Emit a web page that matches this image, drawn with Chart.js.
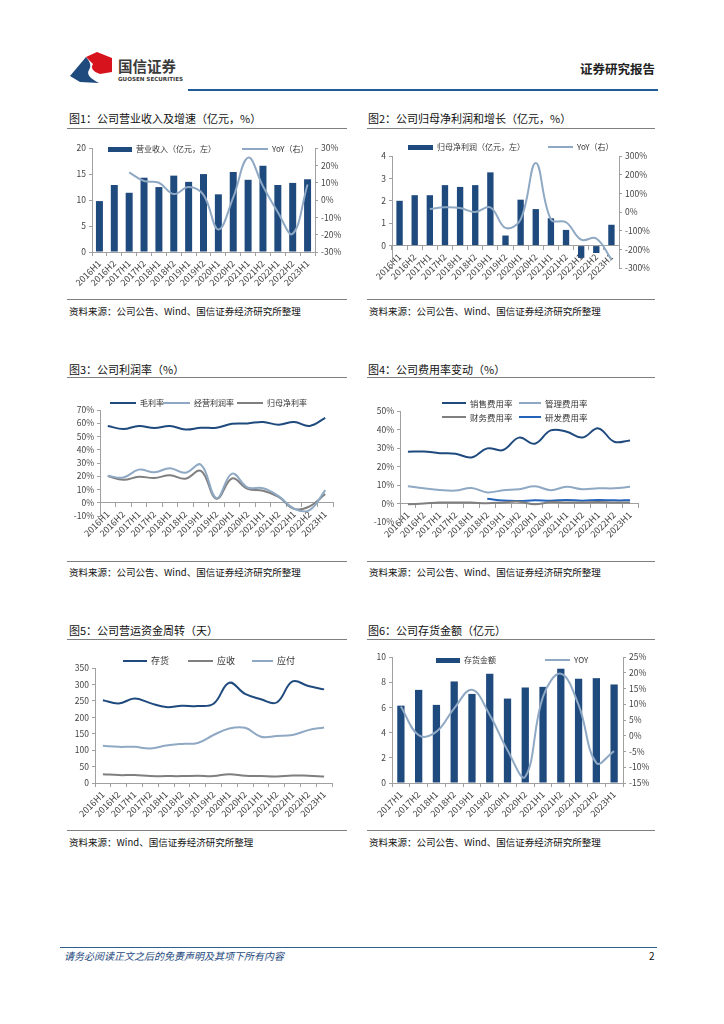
<!DOCTYPE html>
<html>
<head>
<meta charset="utf-8">
<script src="https://cdn.jsdelivr.net/npm/chart.js@4.4.0/dist/chart.umd.min.js"></script>
<style>
body{margin:0;background:#fff;font-family:"Noto Sans CJK SC",sans-serif;}
#page{position:relative;width:724px;height:1024px;overflow:hidden;background:#fff;}
.t{position:absolute;white-space:nowrap;line-height:14px;}
.title{font-size:11px;color:#111;}
.src{font-size:9.5px;color:#111;}
.rule{position:absolute;height:0;border-top:1.5px solid #7f7f7f;}
.lg{position:absolute;white-space:nowrap;font-size:8px;color:#333;line-height:12px;display:flex;align-items:center;}
.sw{display:inline-block;margin-right:4px;}
.box{position:absolute;}
</style>
</head>
<body>
<div id="page">
  <!-- 页眉 -->
  <svg class="box" style="left:66px;top:48px" width="120" height="40">
    <path d="M4 28 L20 9 Q27 17 23 22 Q19 28 33 35 L14 34 Z" fill="#1F4A7E"/>
    <path d="M20 9 L31 4 L46 10 L46 24 L34 26 Q23 22 27 16 Z" fill="#D7141E"/>
    <text x="52" y="24" font-size="14.5" font-weight="bold" fill="#3a3a3a" font-family="Noto Sans CJK SC">国信证券</text>
    <text x="52" y="33" font-size="5.6" font-weight="bold" fill="#3a3a3a" font-family="DejaVu Sans">GUOSEN SECURITIES</text>
  </svg>
  <div class="t" style="left:580px;top:62px;font-size:12.5px;font-weight:bold;color:#222">证券研究报告</div>
  <div class="box" style="left:188px;top:89px;width:470px;height:2px;background:#1F5C99"></div>

  <!-- 图1 -->
  <div class="t title" style="left:69px;top:111px">图1：公司营业收入及增速（亿元，%）</div>
  <div class="rule" style="left:67px;top:128px;width:280px"></div>
  <div class="box" style="left:62px;top:140px;width:288px;height:158px"><canvas id="c1"></canvas></div>
  <div id="lg1"></div>
  <div class="rule" style="left:67px;top:299px;width:280px"></div>
  <div class="t src" style="left:69px;top:304px">资料来源：公司公告、Wind、国信证券经济研究所整理</div>

  <!-- 图2 -->
  <div class="t title" style="left:368px;top:111px">图2：公司归母净利润和增长（亿元，%）</div>
  <div class="rule" style="left:367px;top:128px;width:288px"></div>
  <div class="box" style="left:362px;top:140px;width:290px;height:158px"><canvas id="c2"></canvas></div>
  <div id="lg2"></div>
  <div class="rule" style="left:367px;top:299px;width:288px"></div>
  <div class="t src" style="left:369px;top:304px">资料来源：公司公告、Wind、国信证券经济研究所整理</div>

  <!-- 图3 -->
  <div class="t title" style="left:69px;top:362px">图3：公司利润率（%）</div>
  <div class="rule" style="left:67px;top:377px;width:280px"></div>
  <div class="box" style="left:62px;top:395px;width:288px;height:160px"><canvas id="c3"></canvas></div>
  <div id="lg3"></div>
  <div class="rule" style="left:67px;top:561px;width:280px"></div>
  <div class="t src" style="left:69px;top:565px">资料来源：公司公告、Wind、国信证券经济研究所整理</div>

  <!-- 图4 -->
  <div class="t title" style="left:368px;top:362px">图4：公司费用率变动（%）</div>
  <div class="rule" style="left:367px;top:377px;width:288px"></div>
  <div class="box" style="left:362px;top:395px;width:290px;height:160px"><canvas id="c4"></canvas></div>
  <div id="lg4"></div>
  <div class="rule" style="left:367px;top:561px;width:288px"></div>
  <div class="t src" style="left:369px;top:565px">资料来源：公司公告、Wind、国信证券经济研究所整理</div>

  <!-- 图5 -->
  <div class="t title" style="left:69px;top:623px">图5：公司营运资金周转（天）</div>
  <div class="rule" style="left:67px;top:639px;width:280px"></div>
  <div class="box" style="left:62px;top:650px;width:288px;height:172px"><canvas id="c5"></canvas></div>
  <div id="lg5"></div>
  <div class="rule" style="left:67px;top:830px;width:280px"></div>
  <div class="t src" style="left:69px;top:835px">资料来源：Wind、国信证券经济研究所整理</div>

  <!-- 图6 -->
  <div class="t title" style="left:368px;top:623px">图6：公司存货金额（亿元）</div>
  <div class="rule" style="left:367px;top:639px;width:288px"></div>
  <div class="box" style="left:362px;top:645px;width:290px;height:177px"><canvas id="c6"></canvas></div>
  <div id="lg6"></div>
  <div class="rule" style="left:367px;top:830px;width:288px"></div>
  <div class="t src" style="left:369px;top:835px">资料来源：公司公告、Wind、国信证券经济研究所整理</div>

  <!-- 页脚 -->
  <div class="box" style="left:60px;top:947px;width:597px;height:1px;background:#2E5E8E"></div>
  <div class="t" style="left:64px;top:949px;font-size:10px;font-style:italic;color:#1F4A7E">请务必阅读正文之后的免责声明及其项下所有内容</div>
  <div class="t" style="left:649px;top:949px;font-size:10px;color:#111">2</div>
</div>

<script>
// 横轴
var halfYears = ['2016H1','2016H2','2017H1','2017H2','2018H1','2018H2','2019H1','2019H2','2020H1','2020H2','2021H1','2021H2','2022H1','2022H2','2023H1']
var invPeriods = ['2017H1','2017H2','2018H1','2018H2','2019H1','2019H2','2020H1','2020H2','2021H1','2021H2','2022H1','2022H2','2023H1']

// 图1 营业收入(亿元) 及 YoY(%)
var revenue = [9.8, 12.9, 11.4, 14.3, 12.5, 14.7, 13.5, 15.0, 11.1, 15.4, 13.9, 16.6, 12.9, 13.3, 14.0]
var revenueYoY = [null, null, 16, 11, 10, 3.5, 7.5, 3, -17, 1.5, 24.5, 8, -7, -19.5, 9]

// 图2 归母净利润(亿元) 及 YoY(%)
var netProfit = [2.0, 2.25, 2.25, 2.7, 2.62, 2.7, 3.27, 0.45, 2.05, 1.63, 1.22, 0.7, -0.55, -0.33, 0.93]
var netProfitYoY = [null, null, 16, 25, 21, 0, 25, -85, -40, 262, -40, -55, -148, -142, -255]

// 图3 利润率(%)
var grossMargin = [58, 55.6, 58, 56.4, 58, 55.3, 56.6, 56.6, 59.6, 59.9, 61, 58.9, 61, 58, 64]
var opMargin = [20.4, 19, 25, 23, 26, 22.6, 28.7, 3.5, 22, 11.5, 11, 5, -4.5, -5.5, 9.5]
var netMargin = [20.2, 17.3, 19.6, 18.7, 20.7, 18.2, 24, 3, 18.3, 10.5, 9, 4.4, -4.6, -2.7, 6.6]

// 图4 费用率(%)
var sellRate = [28, 28.1, 27.2, 26.9, 24.9, 29.8, 28.9, 35.6, 32.3, 39.5, 38.8, 35.7, 40.6, 33.4, 34.1]
var adminRate = [9.3, 8.2, 7.3, 7, 8.4, 6, 7.2, 7.7, 9.3, 7.2, 9, 7.7, 8.2, 8.2, 9]
var finRate = [-0.4, 0, 0.5, 0.6, 0.5, 0.1, 0.6, 1, -0.4, 0.8, 0.6, 0.6, 0.8, 0.5, 0.5]
var rdRate = [null, null, null, null, null, 2.6, 1.6, 1.4, 1.7, 1.5, 1.9, 1.5, 1.9, 1.7, 1.7]

// 图5 营运资金周转(天)
var invDays = [252, 242, 257, 243, 231, 235, 234, 241, 305, 271, 255, 245, 309, 295, 285]
var recDays = [27, 24, 24, 21, 21, 21, 22, 21, 27, 22, 21, 20, 23, 22, 20]
var payDays = [113, 110, 110, 105, 114, 119, 122, 146, 166, 168, 141, 143, 146, 161, 169]

// 图6 存货金额(亿元) 及 YoY(%)
var inventory = [6.14, 7.39, 6.2, 8.06, 7.07, 8.67, 6.7, 7.58, 7.63, 9.07, 8.27, 8.32, 7.82]
var inventoryYoY = [9.3, 0.2, 1.3, 8.7, 14.6, 6.6, -4.6, -13, 12.4, 19.7, 9.8, -8.6, -4.9]

var NAVY = '#1F4A7E'
var LIGHT = '#8FA9C4'
var GREY = '#7F7F7F'
var BLUE = '#2563B8'
var AXIS = '#A0A0A0'
var tickFont = { family: 'Noto Sans CJK SC', size: 8.5 }
var xTickFont = { family: 'Noto Sans CJK SC', size: 9 }

Chart.defaults.font.family = 'Noto Sans CJK SC'
Chart.defaults.animation = false

function pct(v) { return v + '%' }

function yAxis(pos, min, max, step, w, fmt) {
  return {
    position: pos, min: min, max: max,
    ticks: { stepSize: step, font: tickFont, color: '#444', padding: 3, callback: fmt || function (v) { return v } },
    grid: { display: true, drawOnChartArea: false, drawTicks: true, tickLength: 3, color: AXIS },
    border: { display: true, color: AXIS },
    afterFit: function (s) { s.width = w }
  }
}

function xAxis(h, pos) {
  var a = {
    type: 'category', offset: true,
    position: pos || 'bottom',
    ticks: { font: xTickFont, color: '#444', minRotation: 45, maxRotation: 45, autoSkip: false, padding: 2 },
    grid: { display: true, drawOnChartArea: false, drawTicks: true, tickLength: 4, color: AXIS, offset: true },
    border: { display: true, color: AXIS }
  }
  if (h) a.afterFit = function (s) { s.height = h }
  return a
}

function line(label, data, color, axis) {
  return { type: 'line', label: label, data: data, borderColor: color, backgroundColor: color, borderWidth: 2,
    pointRadius: 0, tension: 0.4, yAxisID: axis || 'y', order: 0 }
}

function bar(label, data, pct) {
  return { type: 'bar', label: label, data: data, backgroundColor: NAVY, borderWidth: 0,
    barPercentage: pct, categoryPercentage: 1, yAxisID: 'y', order: 1 }
}

function baseOpts(padding, scales) {
  return {
    responsive: true, maintainAspectRatio: false, animation: false,
    layout: { padding: padding },
    plugins: { legend: { display: false }, tooltip: { enabled: false } },
    scales: scales
  }
}

// 自己画图例，位置跟原图一致
function legend(id, items) {
  var html = ''
  items.forEach(function (it) {
    var sw = it.bar
      ? '<span class="sw" style="width:' + it.w + 'px;height:5px;background:' + it.color + '"></span>'
      : '<span class="sw" style="width:' + it.w + 'px;height:2px;background:' + it.color + '"></span>'
    html += '<div class="lg" style="left:' + it.x + 'px;top:' + (it.y - 6) + 'px;font-size:' + (it.fs || 8) + 'px">' + sw + it.text + '</div>'
  })
  document.getElementById(id).innerHTML = html
}

// 图1
new Chart(document.getElementById('c1'), {
  data: { labels: halfYears, datasets: [bar('营业收入（亿元，左）', revenue, 0.47), line('YoY（右）', revenueYoY, LIGHT, 'y1')] },
  options: baseOpts({ top: 8 }, {
    x: xAxis(46),
    y: yAxis('left', 0, 20, 5, 30),
    y1: yAxis('right', -30, 30, 10, 35, pct)
  })
})
legend('lg1', [
  { bar: true, color: NAVY, w: 24, x: 108, y: 149, text: '营业收入（亿元，左）' },
  { color: LIGHT, w: 26, x: 242, y: 149, text: 'YoY（右）' }
])

// 图2
new Chart(document.getElementById('c2'), {
  data: { labels: halfYears, datasets: [bar('归母净利润（亿元，左）', netProfit, 0.42), line('YoY（右）', netProfitYoY, LIGHT, 'y1')] },
  options: baseOpts({ top: 16, bottom: 30 }, {
    x: xAxis(0, { y: 0 }),
    y: yAxis('left', -1, 4, 1, 30, function (v) { return v < 0 ? '' : v }),
    y1: yAxis('right', -300, 300, 100, 33, pct)
  })
})
legend('lg2', [
  { bar: true, color: NAVY, w: 25, x: 408, y: 147, text: '归母净利润（亿元，左）' },
  { color: LIGHT, w: 25, x: 548, y: 147, text: 'YoY（右）' }
])

// 图3
new Chart(document.getElementById('c3'), {
  type: 'line',
  data: { labels: halfYears, datasets: [
    line('毛利率', grossMargin, NAVY),
    line('经营利润率', opMargin, LIGHT),
    line('归母净利率', netMargin, GREY)
  ] },
  options: baseOpts({ top: 15, bottom: 39, right: 17 }, {
    x: xAxis(0, { y: 0 }),
    y: yAxis('left', -10, 70, 10, 38, pct)
  })
})
legend('lg3', [
  { color: NAVY, w: 26, x: 110, y: 403, text: '毛利率' },
  { color: LIGHT, w: 27, x: 163, y: 403, text: '经营利润率' },
  { color: GREY, w: 26, x: 237, y: 403, text: '归母净利率' }
])

// 图4
new Chart(document.getElementById('c4'), {
  type: 'line',
  data: { labels: halfYears, datasets: [
    line('销售费用率', sellRate, NAVY),
    line('管理费用率', adminRate, LIGHT),
    line('财务费用率', finRate, GREY),
    line('研发费用率', rdRate, BLUE)
  ] },
  options: baseOpts({ top: 16, bottom: 33, right: 14 }, {
    x: xAxis(0, { y: 0 }),
    y: yAxis('left', -10, 50, 10, 38, pct)
  })
})
legend('lg4', [
  { color: NAVY, w: 24, x: 442, y: 403, text: '销售费用率', fs: 8.5 },
  { color: LIGHT, w: 22, x: 519, y: 403, text: '管理费用率', fs: 8.5 },
  { color: GREY, w: 24, x: 442, y: 417, text: '财务费用率', fs: 8.5 },
  { color: BLUE, w: 22, x: 519, y: 417, text: '研发费用率', fs: 8.5 }
])

// 图5
new Chart(document.getElementById('c5'), {
  type: 'line',
  data: { labels: halfYears, datasets: [
    line('存货', invDays, NAVY),
    line('应收', recDays, GREY),
    line('应付', payDays, LIGHT)
  ] },
  options: baseOpts({ top: 18, right: 18 }, {
    x: xAxis(39),
    y: yAxis('left', 0, 350, 50, 33)
  })
})
legend('lg5', [
  { color: NAVY, w: 24, x: 123, y: 661, text: '存货', fs: 9 },
  { color: GREY, w: 25, x: 188, y: 661, text: '应收', fs: 9 },
  { color: LIGHT, w: 21, x: 252, y: 661, text: '应付', fs: 9 }
])

// 图6
new Chart(document.getElementById('c6'), {
  data: { labels: invPeriods, datasets: [bar('存货金额', inventory, 0.41), line('YOY', inventoryYoY, LIGHT, 'y1')] },
  options: baseOpts({ top: 12 }, {
    x: xAxis(39),
    y: yAxis('left', 0, 10, 2, 30),
    y1: yAxis('right', -15, 25, 5, 29, pct)
  })
})
legend('lg6', [
  { bar: true, color: NAVY, w: 24, x: 436, y: 660, text: '存货金额' },
  { color: LIGHT, w: 25, x: 545, y: 660, text: 'YOY' }
])
</script>
</body>
</html>
